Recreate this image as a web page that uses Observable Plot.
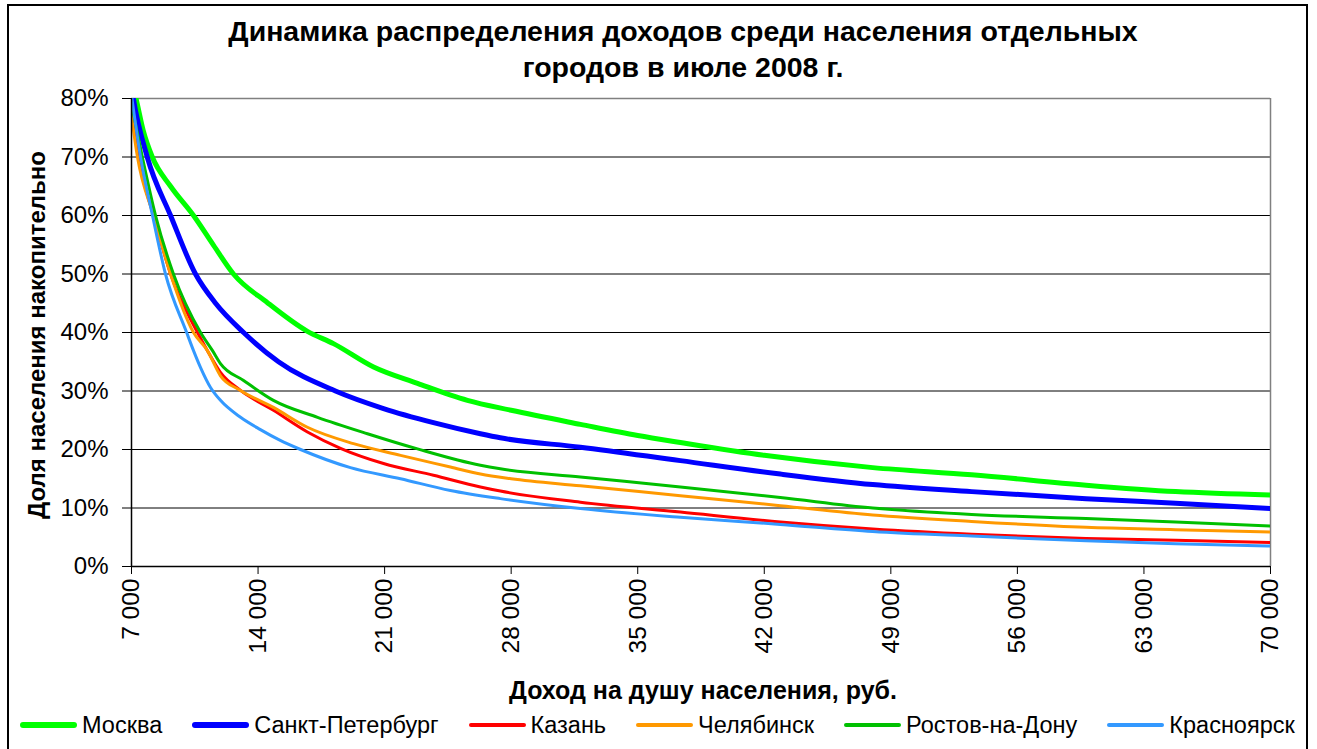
<!DOCTYPE html>
<html>
<head>
<meta charset="utf-8">
<script src="https://cdn.jsdelivr.net/npm/d3@7"></script>
<script src="https://cdn.jsdelivr.net/npm/@observablehq/plot@0.6"></script>
<style>
  body { margin: 0; background: #fff; font-family: "Liberation Sans", Arial, sans-serif; color: #000; }
  #wrap { position: relative; width: 1317px; height: 749px; overflow: hidden; background: #fff; }
  #frame { position: absolute; left: 7px; top: 4px; width: 1301px; height: 800px; border: 2px solid #000; box-sizing: border-box; }
  #title { position: absolute; left: 133px; width: 1100px; top: 13px; text-align: center; font-weight: bold; font-size: 28.5px; line-height: 36px; }
  #chart { position: absolute; left: 0; top: 0; }
  #ytitle { position: absolute; left: 37px; top: 335px; transform: translate(-50%, -50%) rotate(-90deg); white-space: nowrap; font-weight: bold; font-size: 24px; }
  #xtitle { position: absolute; left: 703px; top: 690px; transform: translate(-50%, -50%); white-space: nowrap; font-weight: bold; font-size: 25px; }
  #legend { position: absolute; left: 20px; top: 712px; display: flex; align-items: center; height: 26px; }
  .item { display: flex; align-items: center; margin-right: 30px; font-size: 23.5px; white-space: nowrap; }
  .sw { width: 57px; margin-right: 5px; border-radius: 3px; }
</style>
</head>
<body>
<div id="wrap">
  <div id="frame"></div>
  <div id="title"></div>
  <div id="chart"></div>
  <div id="ytitle"></div>
  <div id="xtitle"></div>
  <div id="legend"></div>
</div>
<script>
const titleLines = ["Динамика распределения доходов среди населения отдельных", "городов в июле 2008 г."];
const yTitle = "Доля населения накопительно";
const xTitle = "Доход на душу населения, руб.";

const cities = ["Москва", "Санкт-Петербург", "Казань", "Челябинск", "Ростов-на-Дону", "Красноярск"];
const colors = ["#00FF00", "#0000FF", "#FF0000", "#FF9900", "#00C000", "#3399FF"];
const widths = [5, 5, 3, 3, 3, 3];

const yTicks = [0, 10, 20, 30, 40, 50, 60, 70, 80];
const xTicks = [7000, 14000, 21000, 28000, 35000, 42000, 49000, 56000, 63000, 70000];

// income (руб.) and cumulative share of population (%)
const incomeMoscow = [7000, 7250, 7650, 8150, 9160, 10430, 11540, 12640, 14520, 16730, 18170, 20390, 22820, 25580, 28000, 31830, 35000, 37360, 42000, 48000, 53470, 59800, 64750, 70000];
const shareMoscow  = [83, 80, 74.5, 70, 65.0, 60, 54.9, 50, 45.1, 40.2, 38.1, 34.1, 31.3, 28.4, 26.7, 24.3, 22.4, 21.2, 19.0, 16.9, 15.7, 13.9, 12.8, 12.2];

const incomeSpb = [7000, 7100, 7870, 9160, 10540, 11650, 13200, 15130, 18280, 20940, 23700, 26300, 27400, 31830, 37360, 42890, 48000, 53470, 59800, 64750, 70000];
const shareSpb  = [82, 80, 70, 60, 50, 45, 40, 35, 30, 27.0, 24.6, 22.7, 22.0, 20.4, 18.1, 15.8, 14.0, 12.8, 11.6, 10.8, 9.9];

const incomeKazan = [7000, 7380, 8220, 9160, 10650, 11200, 11920, 13030, 14850, 16730, 18560, 20940, 23700, 26300, 27400, 31830, 37360, 42890, 48000, 53470, 59800, 64750, 70000];
const shareKazan  = [78.5, 70, 60, 50, 40, 36.9, 33.2, 30.1, 26.7, 23.0, 20.2, 17.6, 15.6, 13.6, 12.9, 11.0, 9.3, 7.6, 6.4, 5.5, 4.8, 4.5, 4.1];

const incomeChel = [7000, 7330, 8220, 9160, 10430, 11200, 11920, 13030, 14850, 16730, 19280, 21880, 24640, 26300, 28000, 31830, 37360, 42890, 48000, 53470, 59800, 64750, 70000];
const shareChel  = [77, 70, 60, 50, 40, 36.9, 32.6, 30.1, 27.2, 23.8, 21.0, 19.0, 17.0, 15.8, 15.0, 13.8, 12.1, 10.4, 8.8, 7.7, 6.7, 6.3, 5.9];

const incomeRostov = [7000, 7600, 8330, 9320, 10820, 11480, 11920, 13200, 14850, 17290, 20050, 22820, 26300, 27400, 31830, 37360, 42890, 48000, 53470, 59800, 64750, 70000];
const shareRostov  = [79, 70, 60, 50, 40, 36.9, 34.7, 31.8, 28.4, 25.5, 22.7, 20.1, 17.3, 16.7, 15.3, 13.6, 11.8, 10.0, 8.9, 8.2, 7.6, 6.9];

const incomeKrasn = [7000, 7500, 8160, 8880, 10050, 10430, 10820, 11370, 11920, 13030, 14130, 15200, 16350, 19110, 21880, 24640, 27400, 31830, 37360, 42890, 48000, 53470, 59800, 64750, 70000];
const shareKrasn  = [80.5, 70, 60, 50, 40, 36.9, 34.0, 30.6, 28.4, 25.5, 23.4, 21.6, 20.0, 16.9, 15.0, 13.0, 11.6, 9.9, 8.4, 7.2, 6.0, 5.2, 4.4, 3.9, 3.5];

const incomes = [incomeMoscow, incomeSpb, incomeKazan, incomeChel, incomeRostov, incomeKrasn];
const shares = [shareMoscow, shareSpb, shareKazan, shareChel, shareRostov, shareKrasn];

const series = cities.map((c, i) => incomes[i].map((x, j) => ({city: c, income: x, share: shares[i][j]})));

const fmtX = d => d3.format(",")(d).replace(/,/g, " ");
const font = '"Liberation Sans", Arial, sans-serif';

const plot = Plot.plot({
  width: 1317,
  height: 700,
  marginLeft: 131,
  marginRight: 47,
  marginTop: 98,
  marginBottom: 134,
  style: {fontFamily: font, fontSize: "24px", color: "#000", background: "transparent", overflow: "visible"},
  x: {type: "linear", domain: [7000, 70000]},
  y: {type: "linear", domain: [0, 80]},
  marks: [
    Plot.ruleY(yTicks.filter(v => v > 0 && v < 80), {stroke: "#000", strokeWidth: 1, strokeOpacity: 1}),
    Plot.ruleY([80], {stroke: "#808080", strokeWidth: 1.5}),
    Plot.ruleX([70000], {stroke: "#808080", strokeWidth: 1.5}),
    ...series.map((s, i) => Plot.line(s, {x: "income", y: "share", stroke: colors[i], strokeWidth: widths[i], curve: "monotone-x", clip: true, strokeLinejoin: "round"})),
    Plot.ruleX([7000], {stroke: "#000", strokeWidth: 1.5}),
    Plot.ruleY([0], {stroke: "#000", strokeWidth: 1.5}),
    Plot.axisY({ticks: yTicks, tickSize: 9, tickPadding: 14, tickFormat: d => d + "%", label: null, fontSize: 24, stroke: "#000"}),
    Plot.axisX({ticks: xTicks, tickSize: 8, tickPadding: 4, tickRotate: -90, tickFormat: fmtX, label: null, fontSize: 24.5, stroke: "#000"})
  ]
});
document.getElementById("chart").appendChild(plot);

document.getElementById("title").innerHTML = titleLines.map(t => `<div>${t}</div>`).join("");
document.getElementById("ytitle").textContent = yTitle;
document.getElementById("xtitle").textContent = xTitle;

const legend = document.getElementById("legend");
cities.forEach((c, i) => {
  const item = document.createElement("div");
  item.className = "item";
  const sw = document.createElement("div");
  sw.className = "sw";
  sw.style.background = colors[i];
  sw.style.height = (widths[i] + 1) + "px";
  const label = document.createElement("span");
  label.textContent = c;
  item.appendChild(sw);
  item.appendChild(label);
  legend.appendChild(item);
});
</script>
</body>
</html>
